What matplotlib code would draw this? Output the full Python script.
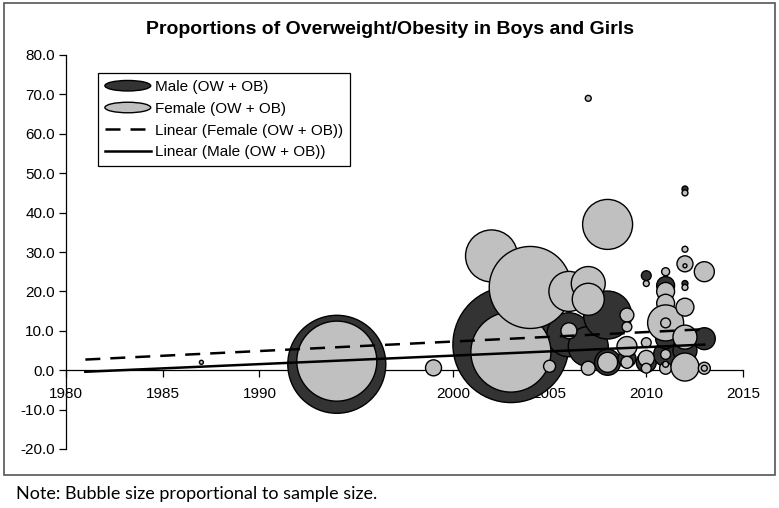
import matplotlib.pyplot as plt
import matplotlib.patches as mpatches
from matplotlib.lines import Line2D
from matplotlib.legend_handler import HandlerPatch

plt.rcParams["font.family"] = ["Liberation Sans", "DejaVu Sans"]

# --- data (year, % overweight/obese, sample size) ---
male_year = [1994, 2003, 2006, 2007, 2008, 2008, 2009, 2010, 2010, 2011,
             2011, 2011, 2012, 2012, 2012, 2013, 2013]
male_pct = [1.5, 6.5, 9.0, 6.0, 14.0, 2.0, 3.0, 24.0, 2.0, 21.5,
            4.0, 8.0, 46.0, 22.0, 5.0, 8.0, 0.5]
male_n = [60000, 84000, 12100, 10000, 14400, 4200, 2000, 600, 2500, 2000,
          3600, 2500, 220, 220, 3600, 3000, 600]

female_year = [1987, 1994, 1999, 2002, 2003, 2004, 2005, 2006, 2006, 2007,
               2007, 2007, 2007, 2008, 2008, 2009, 2009, 2009, 2009, 2010,
               2010, 2010, 2010, 2011, 2011, 2011, 2011, 2011, 2011, 2011,
               2011, 2012, 2012, 2012, 2012, 2012, 2012, 2012, 2012, 2013,
               2013, 2013]
female_pct = [2.0, 2.3, 0.6, 29.0, 4.6, 21.0, 1.0, 20.0, 10.0, 69.0,
              22.0, 18.0, 0.5, 37.0, 2.0, 14.0, 11.0, 6.0, 2.0, 22.0,
              3.0, 0.5, 7.0, 25.0, 20.0, 17.0, 12.0, 12.0, 4.0, 0.5,
              1.5, 45.0, 30.7, 27.0, 26.5, 21.0, 16.0, 8.4, 0.8, 25.0,
              0.5, 0.5]
female_n = [100, 40000, 1600, 16900, 40000, 42000, 900, 10000, 1600, 220,
            7200, 6400, 1200, 15600, 2500, 1200, 600, 2500, 900, 220,
            1600, 600, 600, 400, 2000, 2000, 8100, 600, 600, 900,
            220, 220, 220, 1600, 100, 220, 2000, 3600, 4900, 2500,
            900, 220]

# linear trend lines (end points as drawn)
trend_years = [1981, 2013]
female_trend = [2.7, 10.4]
male_trend = [-0.4, 6.5]

x_ticks = [1980, 1985, 1990, 1995, 2000, 2005, 2010, 2015]
y_ticks = [-20, -10, 0, 10, 20, 30, 40, 50, 60, 70, 80]

MALE_COLOR = "#333333"
FEMALE_COLOR = "#c0c0c0"
BUBBLE_SCALE = 0.083  # points^2 per person

fig = plt.figure(figsize=(7.79, 5.08), dpi=100)
ax = fig.add_axes([66 / 779, 1 - 449 / 508, 677 / 779, 394 / 508])

ax.scatter(male_year, male_pct, s=[n * BUBBLE_SCALE for n in male_n],
           facecolor=MALE_COLOR, edgecolor="black", linewidth=1.0, zorder=2)
ax.scatter(female_year, female_pct, s=[n * BUBBLE_SCALE for n in female_n],
           facecolor=FEMALE_COLOR, edgecolor="black", linewidth=1.0, zorder=2)

ax.plot(trend_years, female_trend, color="black", linewidth=1.8,
        dashes=[6, 4], zorder=2.2)
ax.plot(trend_years, male_trend, color="black", linewidth=1.8, zorder=2.2)

ax.set_xlim(1980, 2015)
ax.set_ylim(-20, 80)
ax.set_xticks(x_ticks)
ax.set_yticks(y_ticks)
ax.set_yticklabels([f"{v:.1f}" for v in y_ticks])
ax.spines["bottom"].set_position(("data", 0))
ax.spines["top"].set_visible(False)
ax.spines["right"].set_visible(False)
for sp in ("left", "bottom"):
    ax.spines[sp].set_zorder(1)
    ax.spines[sp].set_linewidth(0.9)
ax.tick_params(direction="out", length=5, width=0.9, labelsize=11, pad=3)
ax.tick_params(axis="x", pad=7)
ax.patch.set_visible(False)


def make_ellipse(legend, orig_handle, xdescent, ydescent, width, height, fontsize):
    return mpatches.Ellipse((width / 2 - xdescent, height / 2 - ydescent),
                            width, height * 0.9)


handles = [
    mpatches.Ellipse((0, 0), 1, 1, facecolor=MALE_COLOR, edgecolor="black"),
    mpatches.Ellipse((0, 0), 1, 1, facecolor=FEMALE_COLOR, edgecolor="black"),
    Line2D([], [], color="black", linewidth=1.8, dashes=[6, 4]),
    Line2D([], [], color="black", linewidth=1.8),
]
labels = ["Male (OW + OB)", "Female (OW + OB)",
          "Linear (Female (OW + OB))", "Linear (Male (OW + OB))"]
leg = ax.legend(handles, labels, loc="upper left",
                bbox_to_anchor=((98 - 66) / 677, (449 - 73) / 394),
                borderaxespad=0, fontsize=11, fancybox=False,
                edgecolor="black", framealpha=1, handlelength=3.0,
                handleheight=0.8, handletextpad=0.3, labelspacing=0.5,
                borderpad=0.45,
                handler_map={mpatches.Ellipse: HandlerPatch(patch_func=make_ellipse)})
leg.get_frame().set_linewidth(0.9)
leg.set_zorder(5)

fig.text(390 / 779, 1 - 30 / 508, "Proportions of Overweight/Obesity in Boys and Girls",
         ha="center", va="center", fontsize=14, fontweight="bold")

fig.patches.append(mpatches.Rectangle((4 / 779, 1 - 475 / 508), 771 / 779, 472 / 508,
                                      transform=fig.transFigure, fill=False,
                                      edgecolor="#555555", linewidth=1.2))

fig.text(16 / 779, 1 - 494 / 508, "Note: Bubble size proportional to sample size.",
         ha="left", va="center", fontsize=13, family=["Lato", "DejaVu Sans"])

fig.savefig("out.png", dpi=100, facecolor="white")
